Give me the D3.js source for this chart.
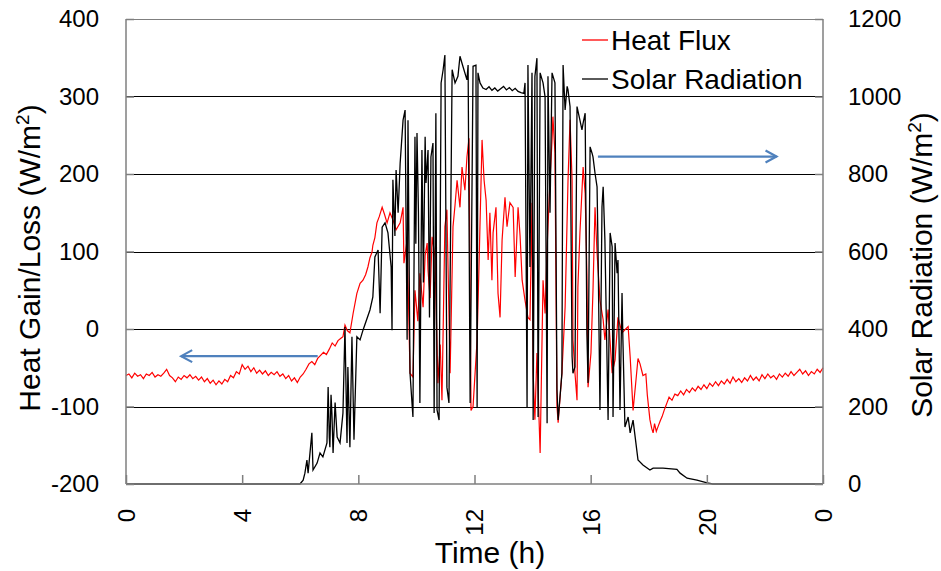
<!DOCTYPE html>
<html>
<head>
<meta charset="utf-8">
<script src="https://cdn.jsdelivr.net/npm/d3@7"></script>
<style>
  body { margin: 0; background: #fff; }
  svg text { font-family: "Liberation Sans", Arial, sans-serif; fill: #000; }
</style>
</head>
<body>
<svg id="chart" width="941" height="571"></svg>
<script>
// heat flux [time h, W/m2]
var heatFlux = [
 [0.0,-60],[0.1,-58],[0.2,-63],[0.3,-57],[0.4,-61],[0.5,-59],[0.6,-64],[0.7,-58],[0.8,-60],[0.9,-56],
 [1.0,-62],[1.1,-59],[1.2,-61],[1.3,-57],[1.4,-52],[1.5,-60],[1.6,-63],[1.7,-68],[1.8,-62],[1.9,-65],
 [2.0,-60],[2.1,-63],[2.2,-59],[2.3,-64],[2.4,-61],[2.5,-66],[2.6,-62],[2.7,-68],[2.8,-64],[2.9,-70],
 [3.0,-66],[3.1,-72],[3.2,-67],[3.3,-71],[3.4,-65],[3.5,-68],[3.6,-60],[3.7,-63],[3.8,-55],[3.9,-58],
 [4.0,-46],[4.1,-52],[4.2,-48],[4.3,-55],[4.4,-50],[4.5,-57],[4.6,-53],[4.7,-58],[4.8,-54],[4.9,-60],
 [5.0,-56],[5.1,-59],[5.2,-55],[5.3,-61],[5.4,-58],[5.5,-64],[5.6,-60],[5.7,-67],[5.8,-63],[5.9,-69],
 [6.0,-62],[6.1,-58],[6.2,-52],[6.3,-45],[6.4,-42],[6.5,-46],[6.6,-38],[6.7,-34],[6.8,-30],[6.9,-33],
 [7.0,-26],[7.1,-18],[7.2,-22],[7.3,-15],[7.4,-12],[7.47,-10],[7.54,5],[7.62,-2],[7.71,-5],[7.82,20],
 [7.95,46],[8.06,59],[8.16,63],[8.25,70],[8.33,80],[8.4,92],[8.47,99],[8.5,108],[8.57,118],[8.64,137],
 [8.72,145],[8.82,157],[8.9,148],[8.99,137],[9.09,150],[9.2,140],[9.3,128],[9.44,137],[9.54,157],[9.57,85],
 [9.68,115],[9.78,-57],[9.88,-62],[9.95,50],[10.05,10],[10.12,72],[10.23,28],[10.3,95],[10.37,111],[10.4,76],
 [10.47,40],[10.54,119],[10.64,93],[10.74,-70],[10.82,-20],[10.88,-92],[10.98,132],[11.05,154],[11.16,-57],[11.26,132],
 [11.33,160],[11.4,192],[11.5,157],[11.57,209],[11.67,179],[11.74,222],[11.81,246],[11.88,-105],[11.95,-100],[12.09,-14],
 [12.16,89],[12.26,244],[12.33,192],[12.4,166],[12.47,89],[12.53,150],[12.6,63],[12.64,124],[12.74,157],[12.81,46],
 [12.88,15],[12.95,115],[13.05,170],[13.12,132],[13.22,163],[13.33,157],[13.4,67],[13.5,157],[13.57,120],[13.64,63],
 [13.74,37],[13.84,15],[13.91,12],[13.98,163],[14.02,-57],[14.08,-117],[14.15,-31],[14.26,-160],[14.36,63],[14.43,20],
 [14.5,106],[14.6,192],[14.67,244],[14.7,274],[14.77,227],[14.84,-100],[14.88,-121],[15.01,-57],[15.12,28],[15.22,192],
 [15.29,270],[15.36,192],[15.39,-14],[15.46,-57],[15.53,-92],[15.56,54],[15.63,124],[15.74,209],[15.81,175],[15.87,72],
 [15.91,-75],[16.01,-31],[16.08,50],[16.15,157],[16.22,98],[16.32,37],[16.43,12],[16.49,-14],[16.6,25],[16.74,-57],
 [16.84,-40],[16.94,15],[17.08,-5],[17.18,-1],[17.29,3],[17.36,-36],[17.46,-105],[17.55,-70],[17.63,-38],[17.7,-45],
 [17.8,-60],[17.9,-58],[17.95,-85],[18.04,-117],[18.1,-128],[18.15,-134],[18.2,-122],[18.26,-132],[18.32,-126],[18.4,-118],
 [18.46,-113],[18.53,-105],[18.58,-100],[18.63,-95],[18.7,-88],[18.8,-92],[18.9,-84],
 [19.0,-86],[19.1,-80],[19.2,-85],[19.3,-78],[19.4,-82],[19.5,-76],[19.6,-80],[19.7,-74],[19.8,-78],[19.9,-72],
 [20.0,-77],[20.1,-70],[20.2,-74],[20.3,-68],[20.4,-73],[20.5,-67],[20.6,-71],[20.7,-65],[20.8,-70],[20.9,-62],
 [21.0,-68],[21.1,-64],[21.2,-69],[21.3,-63],[21.4,-67],[21.5,-60],[21.6,-66],[21.7,-62],[21.8,-67],[21.9,-59],
 [22.0,-64],[22.1,-58],[22.2,-63],[22.3,-60],[22.4,-65],[22.5,-58],[22.6,-62],[22.7,-57],[22.8,-61],[22.9,-55],
 [23.0,-60],[23.1,-56],[23.2,-52],[23.3,-58],[23.4,-54],[23.5,-60],[23.6,-55],[23.7,-58],[23.8,-52],[23.9,-56],[24.0,-50]
];

// solar radiation [time h, W/m2]
var solarRad = [
 [0,0],[5.99,0],[6.1,10],[6.16,28],[6.23,62],[6.27,28],[6.4,132],[6.44,36],[6.58,54],[6.68,80],
 [6.78,70],[6.92,106],[6.96,250],[7.0,120],[7.02,95],[7.06,230],[7.09,183],[7.13,80],[7.2,210],[7.27,121],
 [7.37,106],[7.47,183],[7.54,405],[7.61,106],[7.64,302],[7.71,95],[7.78,380],[7.85,114],[7.95,380],[8.06,372],
 [8.16,397],[8.4,449],[8.5,483],[8.57,586],[8.68,604],[8.75,441],[8.82,663],[8.92,674],[9.02,648],[9.13,560],
 [9.16,397],[9.19,785],[9.26,640],[9.3,810],[9.37,700],[9.44,828],[9.54,939],[9.61,965],[9.68,372],[9.71,939],
 [9.78,286],[9.88,173],[9.95,896],[9.98,620],[10.02,906],[10.07,700],[10.12,209],[10.19,862],[10.24,520],[10.3,896],
 [10.33,777],[10.4,862],[10.45,430],[10.5,844],[10.57,880],[10.61,183],[10.67,957],[10.71,191],[10.78,165],[10.85,1035],
 [10.92,1069],[10.98,1107],[11.05,250],[11.12,209],[11.23,1069],[11.33,1035],[11.43,1052],[11.5,1104],[11.6,1078],[11.74,1043],
 [11.78,1081],[11.85,209],[11.95,1078],[12.05,1081],[12.09,199],[12.12,1061],[12.19,1035],[12.29,1022],[12.4,1018],[12.5,1025],
 [12.6,1016],[12.7,1022],[12.8,1014],[12.9,1020],[13.0,1026],[13.1,1017],[13.2,1023],[13.3,1015],[13.4,1021],[13.5,1013],
 [13.6,1010],[13.7,1008],[13.74,1035],[13.81,199],[13.84,1081],[13.91,560],[13.98,1061],[14.02,165],[14.08,1052],[14.15,1099],
 [14.19,173],[14.26,1061],[14.33,1043],[14.36,1035],[14.43,999],[14.5,157],[14.53,1052],[14.6,700],[14.67,1061],[14.77,1035],
 [14.84,243],[14.88,165],[15.01,286],[15.05,1081],[15.12,965],[15.19,1026],[15.22,1017],[15.29,974],[15.36,329],[15.39,286],
 [15.46,302],[15.53,974],[15.63,939],[15.7,914],[15.74,931],[15.81,957],[15.87,389],[15.91,261],[15.98,870],[16.05,853],
 [16.08,844],[16.15,802],[16.22,767],[16.25,630],[16.32,191],[16.39,715],[16.43,767],[16.49,630],[16.6,165],[16.67,648],
 [16.74,612],[16.77,173],[16.84,622],[16.91,544],[16.94,578],[17.01,191],[17.08,493],[17.11,372],[17.18,147],[17.29,173],
 [17.36,132],[17.46,165],[17.63,62],[17.8,49],[18.04,36],[18.15,41],[18.49,41],[18.97,38],[19.08,28],[19.32,15],
 [19.66,10],[20.01,3],[20.2,0],[24,0]
];

var xTicks = [0, 4, 8, 12, 16, 20, 24];
var xTickLabels = ["0", "4", "8", "12", "16", "20", "0"];
var leftTicks = [-200, -100, 0, 100, 200, 300, 400];
var rightTicks = [0, 200, 400, 600, 800, 1000, 1200];
var seriesNames = ["Heat Flux", "Solar Radiation"];
var seriesColors = ["#ff0000", "#000000"];
// annotation arrows: [t start, t end, value] (left arrow on heat axis, right arrow on solar axis)
var leftArrow = [6.6, 1.9, -35];
var rightArrow = [16.25, 22.4, 845];

var svg = d3.select("#chart");
var pL = 126, pR = 823, pT = 19, pB = 484;

var x = d3.scaleLinear().domain([0, 24]).range([pL, pR]);
var yL = d3.scaleLinear().domain([-200, 400]).range([pB, pT]);
var yR = d3.scaleLinear().domain([0, 1200]).range([pB, pT]);
var plain = function(d){ return String(d); };   // hyphen minus, no thousands comma

// gridlines
svg.append("g").selectAll("line")
  .data(leftTicks.filter(function(d){ return d > -200; }))
  .enter().append("line")
  .attr("x1", pL).attr("x2", pR)
  .attr("y1", function(d){ return Math.round(yL(d)) + 0.5; })
  .attr("y2", function(d){ return Math.round(yL(d)) + 0.5; })
  .attr("stroke", function(d){ return d == 400 ? "#7f7f7f" : "#000"; })
  .attr("stroke-width", 1);

// series
var lineL = d3.line().x(function(d){ return x(d[0]); }).y(function(d){ return yL(d[1]); });
var lineR = d3.line().x(function(d){ return x(d[0]); }).y(function(d){ return yR(d[1]); });

svg.append("path").datum(heatFlux)
  .attr("d", lineL).attr("fill", "none")
  .attr("stroke", seriesColors[0]).attr("stroke-width", 1.2);
svg.append("path").datum(solarRad)
  .attr("d", lineR).attr("fill", "none")
  .attr("stroke", seriesColors[1]).attr("stroke-width", 1.3);

// axes
var axisColor = "#7f7f7f";
var gL = svg.append("g").attr("transform", "translate(" + pL + ",0)")
  .call(d3.axisLeft(yL).tickValues(leftTicks).tickFormat(plain).tickSize(-8).tickPadding(27));
var gR = svg.append("g").attr("transform", "translate(" + pR + ",0)")
  .call(d3.axisRight(yR).tickValues(rightTicks).tickFormat(plain).tickSize(-8).tickPadding(25));
var gB = svg.append("g").attr("transform", "translate(0," + pB + ")")
  .call(d3.axisBottom(x).tickValues(xTicks).tickSize(-9).tickFormat(function(d, i){ return xTickLabels[i]; }));

[gL, gR, gB].forEach(function(g){
  g.select(".domain").attr("stroke", axisColor).attr("stroke-width", 1.5);
  g.selectAll(".tick line").attr("stroke", axisColor).attr("stroke-width", 1.5);
  g.selectAll("text").attr("font-size", 24).attr("font-family", "Liberation Sans, Arial, sans-serif").attr("fill", "#000");
});
gL.select(".domain").attr("d", "M0," + pT + "V" + pB);
gR.select(".domain").attr("d", "M0," + pT + "V" + pB);
gB.select(".domain").attr("d", "M" + pL + ",0H" + pR);

gB.selectAll(".tick text")
  .attr("transform", "rotate(-90)")
  .attr("text-anchor", "end")
  .attr("x", -25).attr("y", 0).attr("dy", "0.35em");

// axis titles
function titleWithSup(g, main) {
  g.append("tspan").text(main + " (W/m");
  g.append("tspan").text("2").attr("font-size", 19).attr("dy", -11);
  g.append("tspan").text(")").attr("dy", 11);
}
var tl = svg.append("text")
  .attr("transform", "translate(40,258) rotate(-90)")
  .attr("text-anchor", "middle").attr("font-size", 30);
titleWithSup(tl, "Heat Gain/Loss");

var tr = svg.append("text")
  .attr("transform", "translate(932,265) rotate(-90)")
  .attr("text-anchor", "middle").attr("font-size", 30);
titleWithSup(tr, "Solar Radiation");

svg.append("text").attr("x", 490).attr("y", 563)
  .attr("text-anchor", "middle").attr("font-size", 30).text("Time (h)");

// legend
var lg = svg.append("g").attr("transform", "translate(582,40)");
seriesNames.forEach(function(name, i){
  lg.append("line").attr("x1", 0).attr("x2", 26)
    .attr("y1", i * 39).attr("y2", i * 39)
    .attr("stroke", seriesColors[i]).attr("stroke-width", 1.3);
  lg.append("text").attr("x", 29).attr("y", i * 39 + 10)
    .attr("font-size", 28).text(name);
});

// blue arrows
var arrowColor = "#4f81bd";
function arrow(x1, x2, y) {
  var dir = x2 > x1 ? 1 : -1;
  svg.append("line").attr("x1", x1).attr("x2", x2).attr("y1", y).attr("y2", y)
    .attr("stroke", arrowColor).attr("stroke-width", 2.2);
  svg.append("path")
    .attr("d", "M" + (x2 - dir * 11) + "," + (y - 6) + "L" + x2 + "," + y + "L" + (x2 - dir * 11) + "," + (y + 6))
    .attr("fill", "none").attr("stroke", arrowColor).attr("stroke-width", 2.2);
}
arrow(x(leftArrow[0]), x(leftArrow[1]), yL(leftArrow[2]));
arrow(x(rightArrow[0]), x(rightArrow[1]), yR(rightArrow[2]));
</script>
</body>
</html>
